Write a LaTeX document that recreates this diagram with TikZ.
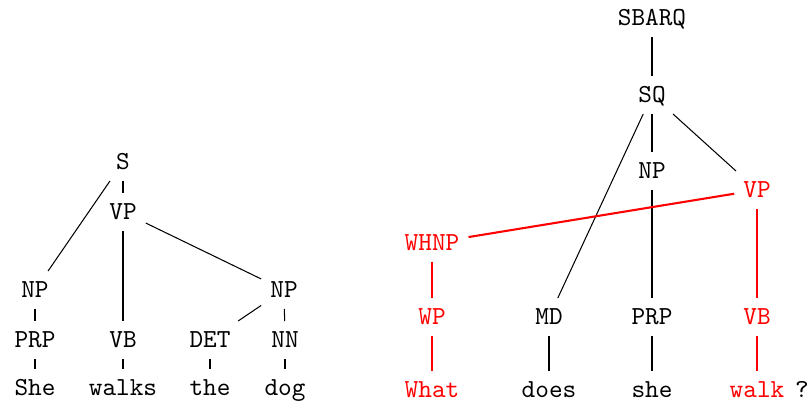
\documentclass[tikz,border=0pt]{standalone}
\usetikzlibrary{positioning}
\definecolor{TreeRed}{HTML}{FF0000}
\tikzset{
  cat/.style={font=\ttfamily, text height=1.5ex, text depth=0.25ex, inner sep=3.33pt},
  redcat/.style={cat, text=TreeRed},
  word/.style={cat},
  redword/.style={word, text=TreeRed},
  branch/.style={draw=black, thin},
  redbranch/.style={draw=TreeRed, line width=0.8pt}
}
\begin{document}
\begin{tikzpicture}[x=0.3846pt, y=-0.3846pt]
\useasboundingbox (0,0) rectangle (811,404);
% left tree
\node[cat] (s) at (123,162) {S};
\node[cat] (vp) at (123,212) {VP};
\node[cat] (np1) at (35,290) {NP};
\node[cat] (np2) at (284,290) {NP};
\node[cat] (prp1) at (35,340) {PRP};
\node[cat] (vb1) at (123,340) {VB};
\node[cat] (det) at (210,340) {DET};
\node[cat] (nn) at (285,340) {NN};
\node[word] (she1) at (35,388) {She};
\node[word] (walks) at (123,388) {walks};
\node[word] (the) at (210,388) {the};
\node[word] (dog) at (285,388) {dog};
\draw[branch] (s) -- (np1);
\draw[branch] (s) -- (vp);
\draw[branch] (vp) -- (vb1);
\draw[branch] (vp) -- (np2);
\draw[branch] (np2) -- (det);
\draw[branch] (np2) -- (nn);
\draw[branch] (np1) -- (prp1);
\draw[branch] (prp1) -- (she1);
\draw[branch] (vb1) -- (walks);
\draw[branch] (det) -- (the);
\draw[branch] (nn) -- (dog);
% right tree
\node[cat] (sbarq) at (652,18) {SBARQ};
\node[cat] (sq) at (652,95) {SQ};
\node[cat] (np3) at (652,171) {NP};
\node[redcat] (vp2) at (757,190) {VP};
\node[redcat] (whnp) at (432,243) {WHNP};
\node[redcat] (wp) at (432,317) {WP};
\node[cat] (md) at (549,317) {MD};
\node[cat] (prp2) at (652,317) {PRP};
\node[redcat] (vb2) at (757,317) {VB};
\node[redword] (what) at (432,390) {What};
\node[word] (does) at (549,390) {does};
\node[word] (she2) at (652,390) {she};
\node[redword] (walk) at (757,390) {walk};
\node[word] (qmark) at (802,390) {?};
\draw[branch] (sbarq) -- (sq);
\draw[branch] (sq) -- (np3);
\draw[branch] (sq) -- (vp2);
\draw[branch] (sq) -- (md);
\draw[branch] (np3) -- (prp2);
\draw[branch] (md) -- (does);
\draw[branch] (prp2) -- (she2);
\draw[redbranch] (vp2) -- (whnp);
\draw[redbranch] (whnp) -- (wp);
\draw[redbranch] (wp) -- (what);
\draw[redbranch] (vp2) -- (vb2);
\draw[redbranch] (vb2) -- (walk);
\end{tikzpicture}
\end{document}
